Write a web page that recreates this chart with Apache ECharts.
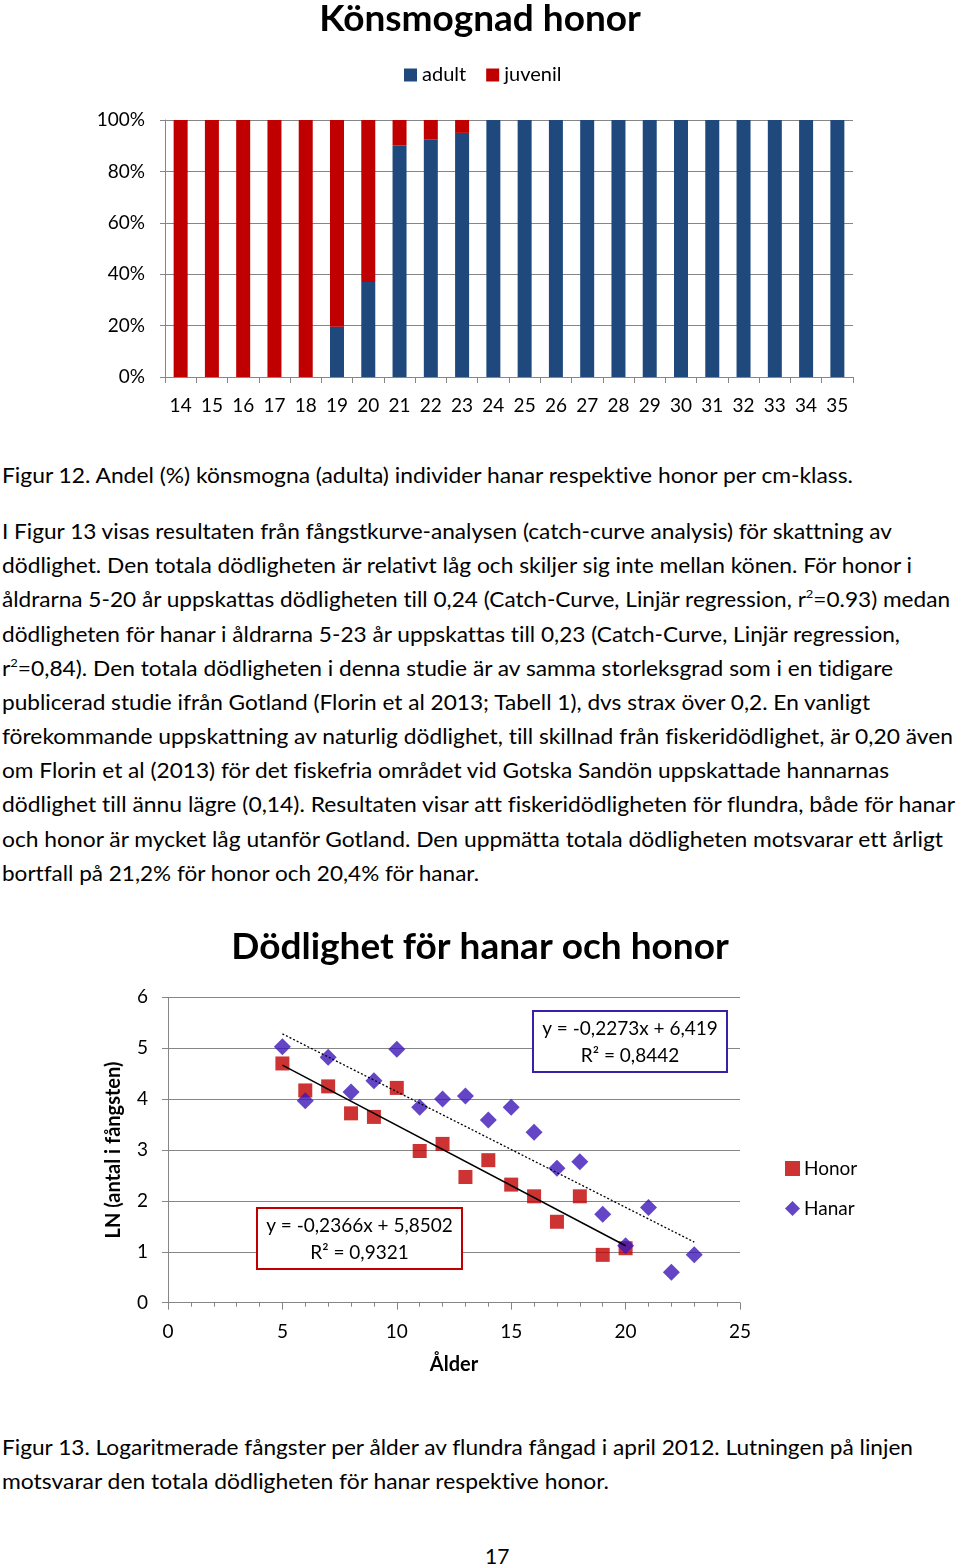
<!DOCTYPE html>
<html>
<head>
<meta charset="utf-8">
<script src="https://cdn.jsdelivr.net/npm/echarts@6/dist/echarts.min.js"></script>
<style>
  html, body { margin: 0; padding: 0; background: #fff; }
  body { width: 960px; height: 1567px; position: relative; overflow: hidden; font-family: Lato, "Noto Sans", sans-serif; color: #000; font-variant-ligatures: none; font-feature-settings: "liga" 0, "clig" 0; }
  #c1 { position: absolute; left: 0; top: 0; width: 960px; height: 440px; }
  #c2 { position: absolute; left: 0; top: 900px; width: 960px; height: 500px; }
  .ln { position: absolute; left: 2px; white-space: nowrap; font-size: 21px; line-height: 34px; height: 34px; transform-origin: 0 50%; }
  .ln sup { font-size: 12px; line-height: 0; vertical-align: 9px; }
</style>
</head>
<body>
<div id="c1"></div>
<div id="c2"></div>
<div id="txt"></div>
<script>
// ---- Chart 1 data: Könsmognad honor ----
const sizeClasses = ['14','15','16','17','18','19','20','21','22','23','24','25','26','27','28','29','30','31','32','33','34','35'];
const adultPct   = [0,0,0,0,0,19.6,37,90,92.5,95,100,100,100,100,100,100,100,100,100,100,100,100];
const juvenilPct = [100,100,100,100,100,80.4,63,10,7.5,5,0,0,0,0,0,0,0,0,0,0,0,0];
const pctTicks = [0,20,40,60,80,100];

// ---- Chart 2 data: Dödlighet för hanar och honor ----
const honorAge = [5,6,7,8,9,10,11,12,13,14,15,16,17,18,19,20];
const honorLn  = [4.70,4.17,4.25,3.72,3.65,4.22,2.98,3.12,2.47,2.80,2.32,2.09,1.59,2.09,0.94,1.07];
const hanarAge = [5,6,7,8,9,10,11,12,13,14,15,16,17,18,19,20,21,22,23];
const hanarLn  = [5.03,3.97,4.82,4.14,4.36,4.98,3.84,4.00,4.06,3.59,3.84,3.35,2.64,2.77,1.74,1.12,1.87,0.60,0.94];
const honorTrend = [-0.2366, 5.8502];   // slope, intercept
const hanarTrend = [-0.2273, 6.419];
const honorTrendRange = [5, 20];
const hanarTrendRange = [5, 23];
const honorEqText = 'y = -0,2366x + 5,8502\nR² = 0,9321';
const hanarEqText = 'y = -0,2273x + 6,419\nR² = 0,8442';

// ---- Page text ----
const textLines = [
  {y: 475, w: 851, h: 'Figur 12. Andel (%) könsmogna (adulta) individer hanar respektive honor per cm-klass.'},
  {y: 531, w: 890, h: 'I Figur 13 visas resultaten från fångstkurve-analysen (catch-curve analysis) för skattning av'},
  {y: 565, w: 910, h: 'dödlighet. Den totala dödligheten är relativt låg och skiljer sig inte mellan könen. För honor i'},
  {y: 599, w: 948, h: 'åldrarna 5-20 år uppskattas dödligheten till 0,24 (Catch-Curve, Linjär regression, r<sup>2</sup>=0.93) medan'},
  {y: 634, w: 898, h: 'dödligheten för hanar i åldrarna 5-23 år uppskattas till 0,23 (Catch-Curve, Linjär regression,'},
  {y: 668, w: 891, h: 'r<sup>2</sup>=0,84). Den totala dödligheten i denna studie är av samma storleksgrad som i en tidigare'},
  {y: 702, w: 868, h: 'publicerad studie ifrån Gotland (Florin et al 2013; Tabell 1), dvs strax över 0,2. En vanligt'},
  {y: 736, w: 951, h: 'förekommande uppskattning av naturlig dödlighet, till skillnad från fiskeridödlighet, är 0,20 även'},
  {y: 770, w: 887, h: 'om Florin et al (2013) för det fiskefria området vid Gotska Sandön uppskattade hannarnas'},
  {y: 804, w: 953, h: 'dödlighet till ännu lägre (0,14). Resultaten visar att fiskeridödligheten för flundra, både för hanar'},
  {y: 839, w: 941, h: 'och honor är mycket låg utanför Gotland. Den uppmätta totala dödligheten motsvarar ett årligt'},
  {y: 873, w: 477, h: 'bortfall på 21,2% för honor och 20,4% för hanar.'},
  {y: 1447, w: 911, h: 'Figur 13. Logaritmerade fångster per ålder av flundra fångad i april 2012. Lutningen på linjen'},
  {y: 1481, w: 607, h: 'motsvarar den totala dödligheten för hanar respektive honor.'}
];

const txt = document.getElementById('txt');
const lineEls = textLines.map(l => {
  const d = document.createElement('div');
  d.className = 'ln';
  d.style.top = (l.y - 17) + 'px';
  d.innerHTML = '<span>' + l.h + '</span>';
  txt.appendChild(d);
  return {el: d, w: l.w};
});
const pg = document.createElement('div');
pg.className = 'ln';
pg.style.left = '485px';
pg.style.top = (1556 - 17) + 'px';
pg.textContent = '17';
txt.appendChild(pg);

function fitLines() {
  lineEls.forEach(o => {
    o.el.style.transform = 'none';
    const nat = o.el.firstChild.getBoundingClientRect().width;
    if (nat > 0) o.el.style.transform = 'scaleX(' + (o.w / nat) + ')';
  });
}
fitLines();
if (document.fonts && document.fonts.ready) document.fonts.ready.then(fitLines);

const FONT = 'Lato';
const GRAY = '#868686';

// ---- Chart 1 ----
const c1 = echarts.init(document.getElementById('c1'), null, {renderer: 'canvas'});
c1.setOption({
  animation: false,
  title: {
    text: 'Könsmognad honor', left: 'center', top: -4,
    textStyle: {fontFamily: FONT, fontSize: 37, fontWeight: 'bold', color: '#000'}
  },
  legend: {
    top: 65, left: 404, padding: 0, itemGap: 20,
    icon: 'rect', itemWidth: 13, itemHeight: 13,
    textStyle: {fontFamily: FONT, fontSize: 20, color: '#000', padding: [0, 0, 0, 0]},
    data: ['adult', 'juvenil']
  },
  grid: {left: 165, top: 120, width: 688, height: 257},
  xAxis: {
    type: 'category', data: sizeClasses,
    axisLine: {lineStyle: {color: GRAY, width: 1}},
    axisTick: {show: true, alignWithLabel: false, length: 6, lineStyle: {color: GRAY}},
    axisLabel: {interval: 0, fontFamily: FONT, fontSize: 19, color: '#000', margin: 19}
  },
  yAxis: {
    type: 'value', min: 0, max: 100, interval: 20,
    axisLine: {show: true, lineStyle: {color: GRAY, width: 1}},
    axisTick: {show: true, length: 5, lineStyle: {color: GRAY}},
    splitLine: {lineStyle: {color: GRAY, width: 1}},
    axisLabel: {fontFamily: FONT, fontSize: 19, color: '#000', margin: 20,
      formatter: v => pctTicks.includes(v) ? v + '%' : ''}
  },
  series: [
    {name: 'adult', type: 'bar', stack: 'tot', barWidth: 14, data: adultPct, itemStyle: {color: '#1F497D'}},
    {name: 'juvenil', type: 'bar', stack: 'tot', barWidth: 14, data: juvenilPct, itemStyle: {color: '#C00000'}}
  ]
});

// ---- Chart 2 ----
const trendPts = (coef, range) => range.map(x => [x, coef[0] * x + coef[1]]);
const c2 = echarts.init(document.getElementById('c2'), null, {renderer: 'canvas'});
c2.setOption({
  animation: false,
  title: {
    text: 'Dödlighet för hanar och honor', left: 'center', top: 24,
    textStyle: {fontFamily: FONT, fontSize: 37, fontWeight: 'bold', color: '#000'}
  },
  legend: {
    orient: 'vertical', left: 785, top: 259, padding: 0, itemGap: 21,
    itemWidth: 15, itemHeight: 15,
    textStyle: {fontFamily: FONT, fontSize: 19, color: '#000', padding: [0, 0, 0, -1]},
    data: [{name: 'Honor', icon: 'rect'}, {name: 'Hanar', icon: 'diamond'}]
  },
  grid: {left: 168, top: 97.3, width: 572, height: 305.4},
  xAxis: {
    type: 'value', min: 0, max: 25, interval: 5,
    name: 'Ålder', nameLocation: 'middle', nameGap: 52,
    nameTextStyle: {fontFamily: FONT, fontSize: 20, fontWeight: 'bold', color: '#000'},
    axisLine: {show: true, lineStyle: {color: GRAY, width: 1}},
    axisTick: {show: true, length: 7, lineStyle: {color: GRAY}},
    minorTick: {show: true, splitNumber: 5, length: 4, lineStyle: {color: GRAY}},
    splitLine: {show: false},
    axisLabel: {fontFamily: FONT, fontSize: 19, color: '#000', margin: 20}
  },
  yAxis: {
    type: 'value', min: 0, max: 6, interval: 1,
    name: 'LN (antal i fångsten)', nameLocation: 'middle', nameGap: 44,
    nameTextStyle: {fontFamily: FONT, fontSize: 20, fontWeight: 'bold', color: '#000'},
    axisLine: {show: true, lineStyle: {color: GRAY, width: 1}},
    axisTick: {show: true, length: 6, lineStyle: {color: GRAY}},
    splitLine: {lineStyle: {color: GRAY, width: 1}},
    axisLabel: {fontFamily: FONT, fontSize: 19, color: '#000', margin: 20}
  },
  series: [
    {name: 'Honor', type: 'scatter', symbol: 'rect', symbolSize: 14,
     data: honorAge.map((a, i) => [a, honorLn[i]]), itemStyle: {color: '#C00000'}},
    {name: 'Hanar', type: 'scatter', symbol: 'diamond', symbolSize: 17,
     data: hanarAge.map((a, i) => [a, hanarLn[i]]), itemStyle: {color: '#3C17B8'}},
    {name: 'HonorTrend', type: 'line', showSymbol: false, symbol: 'none', silent: true, z: 5,
     data: trendPts(honorTrend, honorTrendRange), lineStyle: {color: '#000', width: 1.5}},
    {name: 'HanarTrend', type: 'line', showSymbol: false, symbol: 'none', silent: true, z: 5,
     data: trendPts(hanarTrend, hanarTrendRange), lineStyle: {color: '#000', width: 1.3, type: [2, 2]}}
  ],
  graphic: [
    {type: 'group', left: 532, top: 110, z: 100, children: [
      {type: 'rect', z: 100, shape: {x: 0, y: 0, width: 194, height: 61},
       style: {fill: '#fff', stroke: '#3A1FA8', lineWidth: 2}},
      {type: 'text', z: 101, x: 97, y: 31,
       style: {text: hanarEqText, fontFamily: FONT, fontSize: 19, lineHeight: 27, fill: '#000',
               align: 'center', verticalAlign: 'middle'}}
    ]},
    {type: 'group', left: 256, top: 307, z: 100, children: [
      {type: 'rect', z: 100, shape: {x: 0, y: 0, width: 205, height: 61},
       style: {fill: '#fff', stroke: '#C00000', lineWidth: 2}},
      {type: 'text', z: 101, x: 102.5, y: 31,
       style: {text: honorEqText, fontFamily: FONT, fontSize: 19, lineHeight: 27, fill: '#000',
               align: 'center', verticalAlign: 'middle'}}
    ]}
  ]
});
</script>
</body>
</html>
